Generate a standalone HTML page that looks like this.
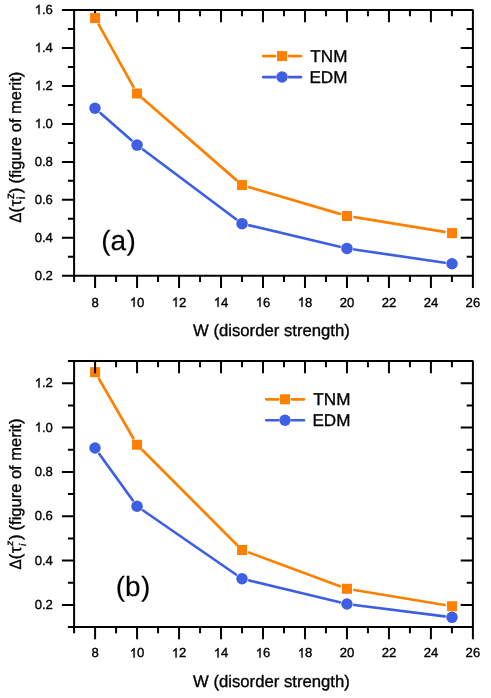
<!DOCTYPE html>
<html><head><meta charset="utf-8"><title>chart</title>
<style>
html,body{margin:0;padding:0;background:#fff;}
body{width:491px;height:698px;overflow:hidden;}
svg{display:block;will-change:transform;}
text{font-family:"Liberation Sans", sans-serif;fill:#000;text-rendering:geometricPrecision;font-variant-ligatures:none;stroke:#000;stroke-width:0.35px;}
.tk{font-size:13.1px;}
.g1{fill:#000;stroke:#000;stroke-width:0.35px;}
.al{font-size:16.7px;}
.sup{font-size:11.7px;}
.sup2{font-size:9.8px;font-style:italic;}
.lg{font-size:17.1px;}
.pl{font-size:28px;stroke-width:0.15px;}
</style></head><body>
<svg width="491" height="698" viewBox="0 0 491 698">
<rect width="491" height="698" fill="#fff"/>
<path d="M98.74 24.60L133.41 86.95M142.70 98.43L236.40 180.12M249.24 187.17L339.81 213.88M354.40 217.20L444.65 231.90" fill="none" stroke="#ff8000" stroke-width="2.7" stroke-linecap="round"/>
<path d="M100.57 113.17L131.48 140.23M142.98 149.53L236.12 219.22M249.25 225.35L339.75 246.70M354.27 249.47L444.68 262.73" fill="none" stroke="#3f5fe3" stroke-width="2.7" stroke-linecap="round"/>
<rect x="74.10" y="10.00" width="398.80" height="265.80" fill="none" stroke="#000" stroke-width="2" stroke-linejoin="bevel"/>
<path d="M74.10 275.80v6.20M95.09 275.80v12.20M95.09 10.00v12.20M116.08 275.80v6.20M116.08 10.00v6.20M137.07 275.80v12.20M137.07 10.00v12.20M158.06 275.80v6.20M158.06 10.00v6.20M179.05 275.80v12.20M179.05 10.00v12.20M200.04 275.80v6.20M200.04 10.00v6.20M221.03 275.80v12.20M221.03 10.00v12.20M242.02 275.80v6.20M242.02 10.00v6.20M263.01 275.80v12.20M263.01 10.00v12.20M283.99 275.80v6.20M283.99 10.00v6.20M304.98 275.80v12.20M304.98 10.00v12.20M325.97 275.80v6.20M325.97 10.00v6.20M346.96 275.80v12.20M346.96 10.00v12.20M367.95 275.80v6.20M367.95 10.00v6.20M388.94 275.80v12.20M388.94 10.00v12.20M409.93 275.80v6.20M409.93 10.00v6.20M430.92 275.80v12.20M430.92 10.00v12.20M451.91 275.80v6.20M451.91 10.00v6.20M472.90 275.80v12.20M74.10 275.80h-12.20M74.10 256.81h-6.20M472.90 256.81h-6.20M74.10 237.83h-12.20M472.90 237.83h-12.20M74.10 218.84h-6.20M472.90 218.84h-6.20M74.10 199.86h-12.20M472.90 199.86h-12.20M74.10 180.87h-6.20M472.90 180.87h-6.20M74.10 161.89h-12.20M472.90 161.89h-12.20M74.10 142.90h-6.20M472.90 142.90h-6.20M74.10 123.91h-12.20M472.90 123.91h-12.20M74.10 104.93h-6.20M472.90 104.93h-6.20M74.10 85.94h-12.20M472.90 85.94h-12.20M74.10 66.96h-6.20M472.90 66.96h-6.20M74.10 47.97h-12.20M472.90 47.97h-12.20M74.10 28.99h-6.20M472.90 28.99h-6.20M74.10 10.00h-12.20" stroke="#000" stroke-width="2" fill="none"/>
<rect x="90.10" y="13.05" width="10.0" height="10.0" fill="#ff8000"/>
<rect x="132.05" y="88.50" width="10.0" height="10.0" fill="#ff8000"/>
<rect x="237.05" y="180.05" width="10.0" height="10.0" fill="#ff8000"/>
<rect x="342.00" y="211.00" width="10.0" height="10.0" fill="#ff8000"/>
<rect x="447.05" y="228.10" width="10.0" height="10.0" fill="#ff8000"/>
<circle cx="95.00" cy="108.30" r="5.75" fill="#3f5fe3"/>
<circle cx="137.05" cy="145.10" r="5.75" fill="#3f5fe3"/>
<circle cx="242.05" cy="223.65" r="5.75" fill="#3f5fe3"/>
<circle cx="346.95" cy="248.40" r="5.75" fill="#3f5fe3"/>
<circle cx="452.00" cy="263.80" r="5.75" fill="#3f5fe3"/>
<text x="91.45" y="306.70" class="tk">8</text>
<path class="g1" d="M134.66 306.70L133.51 306.70L133.51 299.36Q133.10 299.76 132.42 300.16Q131.75 300.55 131.21 300.75L131.21 299.64Q132.18 299.18 132.90 298.54Q133.62 297.89 133.92 297.28L134.66 297.28Z"/><text x="137.07" y="306.70" class="tk">0</text>
<path class="g1" d="M176.64 306.70L175.49 306.70L175.49 299.36Q175.08 299.76 174.40 300.16Q173.73 300.55 173.19 300.75L173.19 299.64Q174.15 299.18 174.88 298.54Q175.60 297.89 175.90 297.28L176.64 297.28Z"/><text x="179.05" y="306.70" class="tk">2</text>
<path class="g1" d="M218.62 306.70L217.47 306.70L217.47 299.36Q217.05 299.76 216.38 300.16Q215.70 300.55 215.17 300.75L215.17 299.64Q216.13 299.18 216.86 298.54Q217.58 297.89 217.88 297.28L218.62 297.28Z"/><text x="221.03" y="306.70" class="tk">4</text>
<path class="g1" d="M260.60 306.70L259.45 306.70L259.45 299.36Q259.03 299.76 258.36 300.16Q257.68 300.55 257.15 300.75L257.15 299.64Q258.11 299.18 258.83 298.54Q259.56 297.89 259.86 297.28L260.60 297.28Z"/><text x="263.01" y="306.70" class="tk">6</text>
<path class="g1" d="M302.58 306.70L301.43 306.70L301.43 299.36Q301.01 299.76 300.34 300.16Q299.66 300.55 299.13 300.75L299.13 299.64Q300.09 299.18 300.81 298.54Q301.54 297.89 301.84 297.28L302.58 297.28Z"/><text x="304.98" y="306.70" class="tk">8</text>
<text x="339.68" y="306.70" class="tk">20</text>
<text x="381.66" y="306.70" class="tk">22</text>
<text x="423.64" y="306.70" class="tk">24</text>
<text x="465.61" y="306.70" class="tk">26</text>
<text x="34.69" y="280.00" class="tk">0.2</text>
<text x="34.69" y="242.03" class="tk">0.4</text>
<text x="34.69" y="204.06" class="tk">0.6</text>
<text x="34.69" y="166.09" class="tk">0.8</text>
<path class="g1" d="M39.57 128.11L38.42 128.11L38.42 120.78Q38.00 121.17 37.33 121.57Q36.65 121.97 36.12 122.17L36.12 121.05Q37.08 120.60 37.80 119.95Q38.53 119.31 38.83 118.70L39.57 118.70Z"/><text x="41.97" y="128.11" class="tk">.0</text>
<path class="g1" d="M39.57 90.14L38.42 90.14L38.42 82.81Q38.00 83.20 37.33 83.60Q36.65 84.00 36.12 84.19L36.12 83.08Q37.08 82.63 37.80 81.98Q38.53 81.33 38.83 80.73L39.57 80.73Z"/><text x="41.97" y="90.14" class="tk">.2</text>
<path class="g1" d="M39.57 52.17L38.42 52.17L38.42 44.83Q38.00 45.23 37.33 45.63Q36.65 46.02 36.12 46.22L36.12 45.11Q37.08 44.66 37.80 44.01Q38.53 43.36 38.83 42.76L39.57 42.76Z"/><text x="41.97" y="52.17" class="tk">.4</text>
<path class="g1" d="M39.57 14.20L38.42 14.20L38.42 6.86Q38.00 7.26 37.33 7.66Q36.65 8.05 36.12 8.25L36.12 7.14Q37.08 6.68 37.80 6.04Q38.53 5.39 38.83 4.78L39.57 4.78Z"/><text x="41.97" y="14.20" class="tk">.6</text>
<text y="250.00" class="pl"><tspan x="101.30">(a</tspan><tspan dx="0.3">)</tspan></text>
<path d="M263.20 56.10H275.13M288.93 56.10H301.00" stroke="#ff8000" stroke-width="2.7" stroke-linecap="round"/>
<path d="M263.20 77.05H275.13M288.93 77.05H301.00" stroke="#3f5fe3" stroke-width="2.7" stroke-linecap="round"/>
<rect x="277.03" y="51.10" width="10.0" height="10.0" fill="#ff8000"/>
<circle cx="282.03" cy="77.05" r="5.75" fill="#3f5fe3"/>
<text x="347.40" y="61.75" text-anchor="end" class="lg">TNM</text>
<text x="347.40" y="82.70" text-anchor="end" class="lg">EDM</text>
<text x="271.40" y="335.55" text-anchor="middle" class="al">W (disorder strength)</text>
<g transform="translate(21.00 222.80) rotate(-90)" class="al" style="font-size:16.5px">
<text x="0" y="0" transform="scale(0.92 1)">Δ</text><text x="10.3" y="0">(</text><text x="16.6" y="0">τ</text>
<text x="23.85" y="-7.1" class="sup">z</text><text x="23.7" y="4.1" class="sup">i</text>
<text x="29.6" y="0">)</text><text x="39.2" y="0">(figure of merit)</text></g>
<path d="M98.85 378.64L133.30 438.26M142.35 450.06L236.75 544.69M249.09 552.60L339.96 586.15M354.40 589.98L444.65 605.02" fill="none" stroke="#ff8000" stroke-width="2.7" stroke-linecap="round"/>
<path d="M99.33 454.05L132.72 500.30M143.14 510.50L235.96 574.50M249.24 580.44L339.76 602.31M354.29 604.98L444.66 616.42" fill="none" stroke="#3f5fe3" stroke-width="2.7" stroke-linecap="round"/>
<rect x="90.10" y="367.15" width="10.0" height="10.0" fill="#ff8000"/>
<rect x="132.05" y="439.75" width="10.0" height="10.0" fill="#ff8000"/>
<rect x="237.05" y="545.00" width="10.0" height="10.0" fill="#ff8000"/>
<rect x="342.00" y="583.75" width="10.0" height="10.0" fill="#ff8000"/>
<rect x="447.05" y="601.25" width="10.0" height="10.0" fill="#ff8000"/>
<circle cx="95.00" cy="448.05" r="5.75" fill="#3f5fe3"/>
<circle cx="137.05" cy="506.30" r="5.75" fill="#3f5fe3"/>
<circle cx="242.05" cy="578.70" r="5.75" fill="#3f5fe3"/>
<circle cx="346.95" cy="604.05" r="5.75" fill="#3f5fe3"/>
<circle cx="452.00" cy="617.35" r="5.75" fill="#3f5fe3"/>
<rect x="74.10" y="361.10" width="398.80" height="265.95" fill="none" stroke="#000" stroke-width="2" stroke-linejoin="bevel"/>
<path d="M74.10 627.05v6.20M95.09 627.05v12.20M95.09 361.10v12.20M116.08 627.05v6.20M116.08 361.10v6.20M137.07 627.05v12.20M137.07 361.10v12.20M158.06 627.05v6.20M158.06 361.10v6.20M179.05 627.05v12.20M179.05 361.10v12.20M200.04 627.05v6.20M200.04 361.10v6.20M221.03 627.05v12.20M221.03 361.10v12.20M242.02 627.05v6.20M242.02 361.10v6.20M263.01 627.05v12.20M263.01 361.10v12.20M283.99 627.05v6.20M283.99 361.10v6.20M304.98 627.05v12.20M304.98 361.10v12.20M325.97 627.05v6.20M325.97 361.10v6.20M346.96 627.05v12.20M346.96 361.10v12.20M367.95 627.05v6.20M367.95 361.10v6.20M388.94 627.05v12.20M388.94 361.10v12.20M409.93 627.05v6.20M409.93 361.10v6.20M430.92 627.05v12.20M430.92 361.10v12.20M451.91 627.05v6.20M451.91 361.10v6.20M472.90 627.05v12.20M74.10 627.05h-6.20M74.10 604.89h-12.20M472.90 604.89h-12.20M74.10 582.72h-6.20M472.90 582.72h-6.20M74.10 560.56h-12.20M472.90 560.56h-12.20M74.10 538.40h-6.20M472.90 538.40h-6.20M74.10 516.24h-12.20M472.90 516.24h-12.20M74.10 494.07h-6.20M472.90 494.07h-6.20M74.10 471.91h-12.20M472.90 471.91h-12.20M74.10 449.75h-6.20M472.90 449.75h-6.20M74.10 427.59h-12.20M472.90 427.59h-12.20M74.10 405.43h-6.20M472.90 405.43h-6.20M74.10 383.26h-12.20M472.90 383.26h-12.20M74.10 361.10h-6.20" stroke="#000" stroke-width="2" fill="none"/>
<text x="91.45" y="657.45" class="tk">8</text>
<path class="g1" d="M134.66 657.45L133.51 657.45L133.51 650.11Q133.10 650.51 132.42 650.91Q131.75 651.30 131.21 651.50L131.21 650.39Q132.18 649.93 132.90 649.29Q133.62 648.64 133.92 648.03L134.66 648.03Z"/><text x="137.07" y="657.45" class="tk">0</text>
<path class="g1" d="M176.64 657.45L175.49 657.45L175.49 650.11Q175.08 650.51 174.40 650.91Q173.73 651.30 173.19 651.50L173.19 650.39Q174.15 649.93 174.88 649.29Q175.60 648.64 175.90 648.03L176.64 648.03Z"/><text x="179.05" y="657.45" class="tk">2</text>
<path class="g1" d="M218.62 657.45L217.47 657.45L217.47 650.11Q217.05 650.51 216.38 650.91Q215.70 651.30 215.17 651.50L215.17 650.39Q216.13 649.93 216.86 649.29Q217.58 648.64 217.88 648.03L218.62 648.03Z"/><text x="221.03" y="657.45" class="tk">4</text>
<path class="g1" d="M260.60 657.45L259.45 657.45L259.45 650.11Q259.03 650.51 258.36 650.91Q257.68 651.30 257.15 651.50L257.15 650.39Q258.11 649.93 258.83 649.29Q259.56 648.64 259.86 648.03L260.60 648.03Z"/><text x="263.01" y="657.45" class="tk">6</text>
<path class="g1" d="M302.58 657.45L301.43 657.45L301.43 650.11Q301.01 650.51 300.34 650.91Q299.66 651.30 299.13 651.50L299.13 650.39Q300.09 649.93 300.81 649.29Q301.54 648.64 301.84 648.03L302.58 648.03Z"/><text x="304.98" y="657.45" class="tk">8</text>
<text x="339.68" y="657.45" class="tk">20</text>
<text x="381.66" y="657.45" class="tk">22</text>
<text x="423.64" y="657.45" class="tk">24</text>
<text x="465.61" y="657.45" class="tk">26</text>
<text x="34.69" y="609.09" class="tk">0.2</text>
<text x="34.69" y="564.76" class="tk">0.4</text>
<text x="34.69" y="520.44" class="tk">0.6</text>
<text x="34.69" y="476.11" class="tk">0.8</text>
<path class="g1" d="M39.57 431.79L38.42 431.79L38.42 424.45Q38.00 424.85 37.33 425.24Q36.65 425.64 36.12 425.84L36.12 424.73Q37.08 424.27 37.80 423.63Q38.53 422.98 38.83 422.37L39.57 422.37Z"/><text x="41.97" y="431.79" class="tk">.0</text>
<path class="g1" d="M39.57 387.46L38.42 387.46L38.42 380.13Q38.00 380.52 37.33 380.92Q36.65 381.32 36.12 381.51L36.12 380.40Q37.08 379.95 37.80 379.30Q38.53 378.65 38.83 378.05L39.57 378.05Z"/><text x="41.97" y="387.46" class="tk">.2</text>
<text y="596.35" class="pl"><tspan x="115.80">(b</tspan><tspan dx="0.3">)</tspan></text>
<path d="M266.20 399.30H278.13M291.93 399.30H304.00" stroke="#ff8000" stroke-width="2.7" stroke-linecap="round"/>
<path d="M266.20 420.25H278.13M291.93 420.25H304.00" stroke="#3f5fe3" stroke-width="2.7" stroke-linecap="round"/>
<rect x="280.03" y="394.30" width="10.0" height="10.0" fill="#ff8000"/>
<circle cx="285.03" cy="420.25" r="5.75" fill="#3f5fe3"/>
<text x="350.40" y="404.95" text-anchor="end" class="lg">TNM</text>
<text x="350.40" y="425.90" text-anchor="end" class="lg">EDM</text>
<text x="271.40" y="687.10" text-anchor="middle" class="al">W (disorder strength)</text>
<g transform="translate(21.00 569.60) rotate(-90)" class="al" style="font-size:16.5px">
<text x="0" y="0" transform="scale(0.92 1)">Δ</text><text x="10.3" y="0">(</text><text x="16.6" y="0">τ</text>
<text x="23.8" y="-7.7" class="sup2">z</text><text x="23.5" y="4.6" class="sup2">i</text>
<text x="29.6" y="0">)</text><text x="39.2" y="0">(figure of merit)</text></g>
</svg>
</body></html>
